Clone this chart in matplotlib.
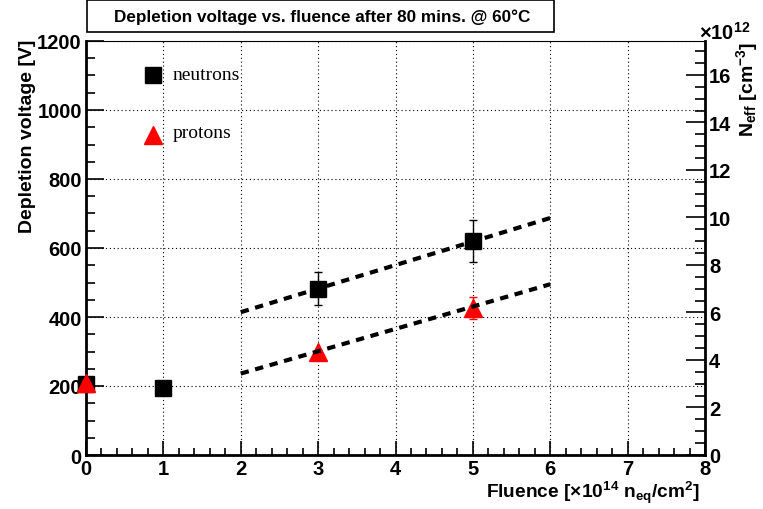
import matplotlib
matplotlib.use("Agg")
import matplotlib.pyplot as plt
from matplotlib.patches import Rectangle
from matplotlib.ticker import MultipleLocator

# Data
fluence_neutrons = [0, 1, 3, 5]
vdep_neutrons = [207, 194, 482, 620]
err_neutrons = [0, 0, 48, 60]

fluence_protons = [0, 3, 5]
vdep_protons = [210, 298, 425]
err_protons = [0, 0, 32]

fit_x = [2, 6]
fit_neutrons = [414, 687]
fit_protons = [236, 495]

neff_max = 17.43  # right axis top (x1e12 cm^-3) matching 1200 V

plt.rcParams['font.family'] = ['Liberation Sans', 'DejaVu Sans']
plt.rcParams['font.weight'] = 'bold'
plt.rcParams['mathtext.fontset'] = 'custom'
plt.rcParams['mathtext.rm'] = 'Liberation Sans:bold'
plt.rcParams['mathtext.it'] = 'Liberation Sans:bold'
plt.rcParams['mathtext.bf'] = 'Liberation Sans:bold'

W, H = 763, 510
fig = plt.figure(figsize=(W / 100, H / 100), dpi=100)
x0, x1, y0, y1 = 86, 705, 42, 456
ax = fig.add_axes([x0 / W, 1 - y1 / H, (x1 - x0) / W, (y1 - y0) / H])

ax.set_xlim(0, 8)
ax.set_ylim(0, 1200)
ax.xaxis.set_major_locator(MultipleLocator(1))
ax.xaxis.set_minor_locator(MultipleLocator(0.2))
ax.yaxis.set_major_locator(MultipleLocator(200))
ax.yaxis.set_minor_locator(MultipleLocator(50))
ax.grid(True, which='major', color='black', linestyle=(0, (1, 2.5)), linewidth=0.8)
ax.set_axisbelow(True)

ax.tick_params(axis='both', which='both', direction='in', labelsize=14.5, width=1.2)
ax.tick_params(axis='x', which='major', length=10, pad=3)
ax.tick_params(axis='x', which='minor', length=5)
ax.tick_params(axis='y', which='major', length=13, pad=3)
ax.tick_params(axis='y', which='minor', length=6.5)
ax.tick_params(right=False, top=False)
for lab in ax.get_xticklabels() + ax.get_yticklabels():
    lab.set_fontweight('bold')

ax.spines['left'].set_linewidth(2)
ax.spines['bottom'].set_linewidth(2)
ax.spines['top'].set_linewidth(0.8)
ax.spines['right'].set_visible(False)

# right axis for N_eff
ax2 = ax.twinx()
ax2.set_ylim(0, neff_max)
ax2.yaxis.set_major_locator(MultipleLocator(2))
ax2.yaxis.set_minor_locator(MultipleLocator(0.5))
ax2.tick_params(axis='y', which='both', direction='in', labelsize=14.5, width=1.2)
ax2.tick_params(axis='y', which='major', length=14, pad=3)
ax2.tick_params(axis='y', which='minor', length=7)
for lab in ax2.get_yticklabels():
    lab.set_fontweight('bold')
for s in ['left', 'top', 'bottom']:
    ax2.spines[s].set_visible(False)
ax2.spines['right'].set_linewidth(2)

# keep the data on top of the twin axis
ax.set_zorder(ax2.get_zorder() + 1)
ax.patch.set_visible(False)

# protons (fit line drawn over them)
pe = ax.errorbar(fluence_protons, vdep_protons, yerr=err_protons, fmt='^', color='red',
                 markersize=13, ecolor='red', elinewidth=1, capsize=3, zorder=3)
ax.plot(fit_x, fit_neutrons, color='black', linestyle=(0, (2, 1.6)), linewidth=3, zorder=4)
ax.plot(fit_x, fit_protons, color='black', linestyle=(0, (2, 1.6)), linewidth=3, zorder=4)
ne = ax.errorbar(fluence_neutrons, vdep_neutrons, yerr=err_neutrons, fmt='s', color='black',
                 markersize=12, ecolor='black', elinewidth=1, capsize=3, zorder=2.9)
for cont in (pe, ne):
    for art in cont.get_children():
        art.set_clip_on(False)

# legend
ax.plot([0.108], [0.918], 's', color='black', markersize=12, transform=ax.transAxes, clip_on=False)
ax.plot([0.108], [0.773], '^', color='red', markersize=13, transform=ax.transAxes, clip_on=False)
ax.text(0.140, 0.918, 'neutrons', transform=ax.transAxes, family='Liberation Serif',
        fontweight='normal', fontsize=14, va='center', ha='left')
ax.text(0.140, 0.778, 'protons', transform=ax.transAxes, family='Liberation Serif',
        fontweight='normal', fontsize=14, va='center', ha='left')

# axis titles
fig.text(28 / W, 1 - 40 / H, 'Depletion voltage [V]', rotation=90, ha='center', va='top',
         fontsize=14, fontweight='bold')
fig.text(700 / W, 1 - 493 / H, r'Fluence [$\times$10$^{14}$ n$_{eq}$/cm$^{2}$]',
         ha='right', va='center', fontsize=13.8, fontweight='bold')
fig.text(747 / W, 1 - 42 / H, r'N$_{eff}$ [cm$^{-3}$]', rotation=90, ha='center', va='top',
         fontsize=14, fontweight='bold')
fig.text(699 / W, 1 - 33 / H, r'$\times$10$^{12}$', ha='left', va='center',
         fontsize=14.5, fontweight='bold')

# title box
fig.patches.append(Rectangle((87 / W, 1 - 33 / H), 467 / W, 32 / H, transform=fig.transFigure,
                             facecolor='white', edgecolor='black', linewidth=1.2))
fig.text(322 / W, 1 - 17 / H, 'Depletion voltage vs. fluence after 80 mins. @ 60\u00b0C',
         ha='center', va='center', fontsize=12.3, fontweight='bold')

fig.savefig('out.png', dpi=100)
